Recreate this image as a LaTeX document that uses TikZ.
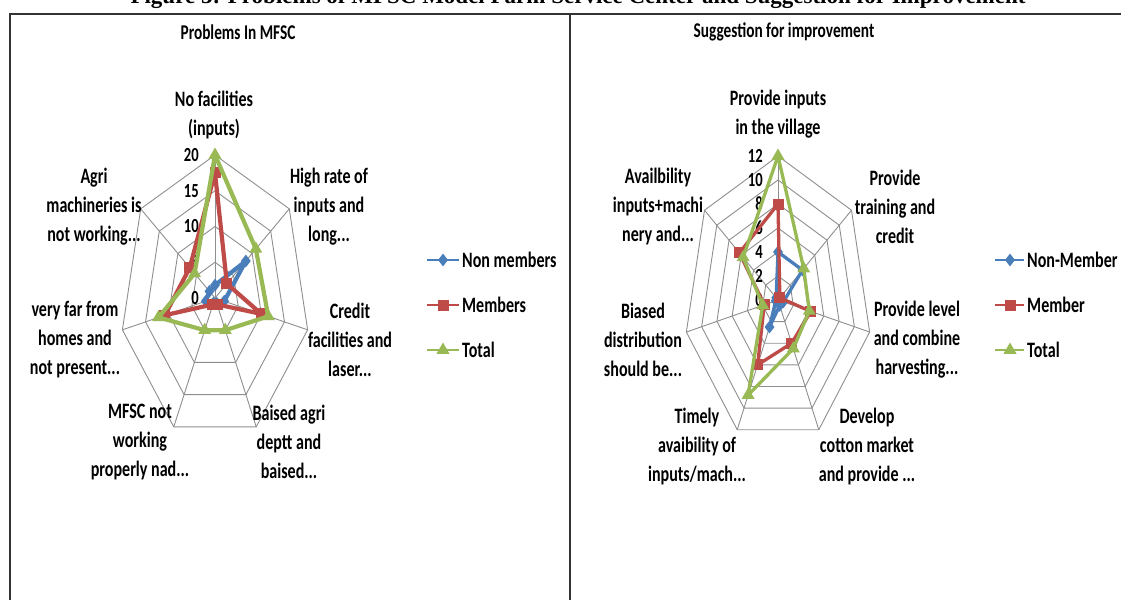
\documentclass[tikz,border=0pt]{standalone}
\usepackage{fontspec}
\setmainfont{Carlito}[FakeStretch=0.73]
\newfontfamily\capfont{Liberation Serif}
\usetikzlibrary{shapes.geometric}

\definecolor{nonblue}{HTML}{4A7EBB}
\definecolor{memred}{HTML}{BE4B48}
\definecolor{totgreen}{HTML}{98B954}
\definecolor{gridgray}{HTML}{8E8E8E}

\begin{document}
\begin{tikzpicture}[x=1pt, y=-1pt,
  frameline/.style={draw=black!80, line width=1.3pt},
  gridline/.style={draw=gridgray, line width=0.9pt},
  axlabel/.style={align=center, inner sep=0pt, font=\bfseries\fontsize{22}{29}\selectfont},
  vallabel/.style={anchor=east, inner sep=0pt, font=\bfseries\fontsize{20}{20}\selectfont},
  legtext/.style={anchor=west, inner sep=0pt, font=\bfseries\fontsize{22}{22}\selectfont},
  titletext/.style={inner sep=0pt, font=\bfseries\fontsize{21}{21}\selectfont},
  nonline/.style={draw=nonblue, line width=3.3pt, line join=round},
  memline/.style={draw=memred, line width=3.3pt, line join=round},
  totline/.style={draw=totgreen, line width=3.3pt, line join=round},
  diamark/.style={diamond, fill=nonblue, inner sep=0pt, minimum width=10pt, minimum height=13pt},
  sqmark/.style={rectangle, fill=memred, inner sep=0pt, minimum size=11pt},
  trimark/.style={regular polygon, regular polygon sides=3, fill=totgreen, inner sep=0pt, minimum size=15pt}]
\useasboundingbox (0,0) rectangle (1121,600);

% caption cut by the top edge
\node[anchor=base, inner sep=0pt, font=\capfont\bfseries\fontsize{23}{23}\selectfont] (caption) at (578,3)
  {Figure 3: Problems of MFSC Model Farm Service Center and Suggestion for Improvement};

% table frame
\draw[frameline] (10,600) -- (10,14) -- (1121,14);
\draw[frameline] (570,14) -- (570,600);

\node[titletext] (ltitle) at (238,32) {Problems In MFSC};
\node[titletext] (rtitle) at (784,32) {Suggestion for improvement};

% left radar
\begin{scope}[shift={(215,298)}, x=95pt, y=143pt]
  \foreach \r in {0.25,0.5,0.75,1}
    \draw[gridline] (90:\r) \foreach \k in {1,...,6} { -- ({90-\k*360/7}:\r) } -- cycle;
  \foreach \k in {0,...,6}
    \draw[gridline] (0,0) -- ({90-\k*360/7}:1);
  \foreach \v in {0,5,10,15,20}
    \node[vallabel] at (-0.17,{\v/20}) {\v};

  \foreach \v [count=\k from 0] in {1.8,8.3,2,0.8,0.8,2,1.5}
    \coordinate (lnon\k) at ({90-\k*360/7}:{\v/20});
  \foreach \v [count=\k from 0] in {17.5,3.2,10,1,1,10.8,6.8}
    \coordinate (lmem\k) at ({90-\k*360/7}:{\v/20});
  \foreach \v [count=\k from 0] in {20,11,11.5,5,5,12.2,5.5}
    \coordinate (ltot\k) at ({90-\k*360/7}:{\v/20});

  \draw[nonline, line width=4.2pt] (lnon0) -- (lnon1) -- (lnon2) -- (lnon3) -- (lnon4) -- (lnon5) -- (lnon6) -- cycle;
  \foreach \k in {0,...,6} \node[diamark] at (lnon\k) {};
  \draw[memline, line width=4.2pt] (lmem0) -- (lmem1) -- (lmem2) -- (lmem3) -- (lmem4) -- (lmem5) -- (lmem6) -- cycle;
  \foreach \k in {0,...,6} \node[sqmark] at (lmem\k) {};
  \draw[totline, line width=4.2pt] (ltot0) -- (ltot1) -- (ltot2) -- (ltot3) -- (ltot4) -- (ltot5) -- (ltot6) -- cycle;
  \foreach \k in {0,...,6} \node[trimark] at (ltot\k) {};
\end{scope}

\node[axlabel] (nofac) at (214,115) {No facilities\\(inputs)};
\node[axlabel] (highrate) at (329,207) {High rate of\\inputs and\\long...};
\node[axlabel] (credit) at (350,340) {Credit\\facilities and\\laser...};
\node[axlabel] (baised) at (289,442) {Baised agri\\deptt and\\baised...};
\node[axlabel] (mfsc) at (140,442) {MFSC not\\working\\properly nad...};
\node[axlabel] (veryfar) at (75,340) {very far from\\homes and\\not present...};
\node[axlabel] (agri) at (94,207) {Agri\\machineries is\\not working...};

% left legend
\node[legtext] (lgnon) at (462,260) {Non members};
\node[legtext] (lgmem) at (462,305) {Members};
\node[legtext] (lgtot) at (462,350) {Total};
\coordinate (lgnonA) at (427,260);
\coordinate (lgmemA) at (427,305);
\coordinate (lgtotA) at (427,350);
\draw[nonline, line width=2.8pt] (lgnonA) -- ([xshift=-3pt]lgnon.west);
\draw[memline, line width=2.8pt] (lgmemA) -- ([xshift=-3pt]lgmem.west);
\draw[totline, line width=2.8pt] (lgtotA) -- ([xshift=-3pt]lgtot.west);
\node[diamark] at (443,260) {};
\node[sqmark] at (443,305) {};
\node[trimark] at (443,350) {};

% right radar
\begin{scope}[shift={(778,300)}, x=94pt, y=144pt]
  \foreach \r in {1,...,6}
    \draw[gridline] (90:\r/6) \foreach \k in {1,...,6} { -- ({90-\k*360/7}:{\r/6}) } -- cycle;
  \foreach \k in {0,...,6}
    \draw[gridline] (0,0) -- ({90-\k*360/7}:1);
  \foreach \v in {0,2,...,12}
    \node[vallabel] at (-0.16,{\v/12}) {\v};

  \foreach \v [count=\k from 0] in {4,4,0.7,0.5,2.5,0.3,0.3}
    \coordinate (rnon\k) at ({90-\k*360/7}:{\v/12});
  \foreach \v [count=\k from 0] in {8,0.3,4.3,4,6,1.8,6.3}
    \coordinate (rmem\k) at ({90-\k*360/7}:{\v/12});
  \foreach \v [count=\k from 0] in {12,4.2,4.1,4.5,8.8,2,5.7}
    \coordinate (rtot\k) at ({90-\k*360/7}:{\v/12});

  \draw[nonline] (rnon0) -- (rnon1) -- (rnon2) -- (rnon3) -- (rnon4) -- (rnon5) -- (rnon6) -- cycle;
  \foreach \k in {0,...,6} \node[diamark] at (rnon\k) {};
  \draw[memline] (rmem0) -- (rmem1) -- (rmem2) -- (rmem3) -- (rmem4) -- (rmem5) -- (rmem6) -- cycle;
  \foreach \k in {0,...,6} \node[sqmark] at (rmem\k) {};
  \draw[totline] (rtot0) -- (rtot1) -- (rtot2) -- (rtot3) -- (rtot4) -- (rtot5) -- (rtot6) -- cycle;
  \foreach \k in {0,...,6} \node[trimark] at (rtot\k) {};
\end{scope}

\node[axlabel] (invillage) at (778,114) {Provide inputs\\in the village};
\node[axlabel] (training) at (895,207) {Provide\\training and\\credit};
\node[axlabel] (level) at (917,340) {Provide level\\and combine\\harvesting...};
\node[axlabel] (cotton) at (867,447) {Develop\\cotton market\\and provide ...};
\node[axlabel] (timely) at (697,447) {Timely\\avaibility of\\inputs/mach...};
\node[axlabel] (biased) at (643,340) {Biased\\distribution\\should be...};
\node[axlabel] (avail) at (658,207) {Availbility\\inputs+machi\\nery and...};

% right legend
\node[legtext] (rgnon) at (1027,260) {Non-Member};
\node[legtext] (rgmem) at (1027,305) {Member};
\node[legtext] (rgtot) at (1027,350) {Total};
\coordinate (rgnonA) at (995,260);
\coordinate (rgmemA) at (995,305);
\coordinate (rgtotA) at (995,350);
\draw[nonline, line width=2.8pt] (rgnonA) -- ([xshift=-3pt]rgnon.west);
\draw[memline, line width=2.8pt] (rgmemA) -- ([xshift=-3pt]rgmem.west);
\draw[totline, line width=2.8pt] (rgtotA) -- ([xshift=-3pt]rgtot.west);
\node[diamark] at (1010,260) {};
\node[sqmark] at (1010,305) {};
\node[trimark] at (1010,350) {};
\end{tikzpicture}
\end{document}
